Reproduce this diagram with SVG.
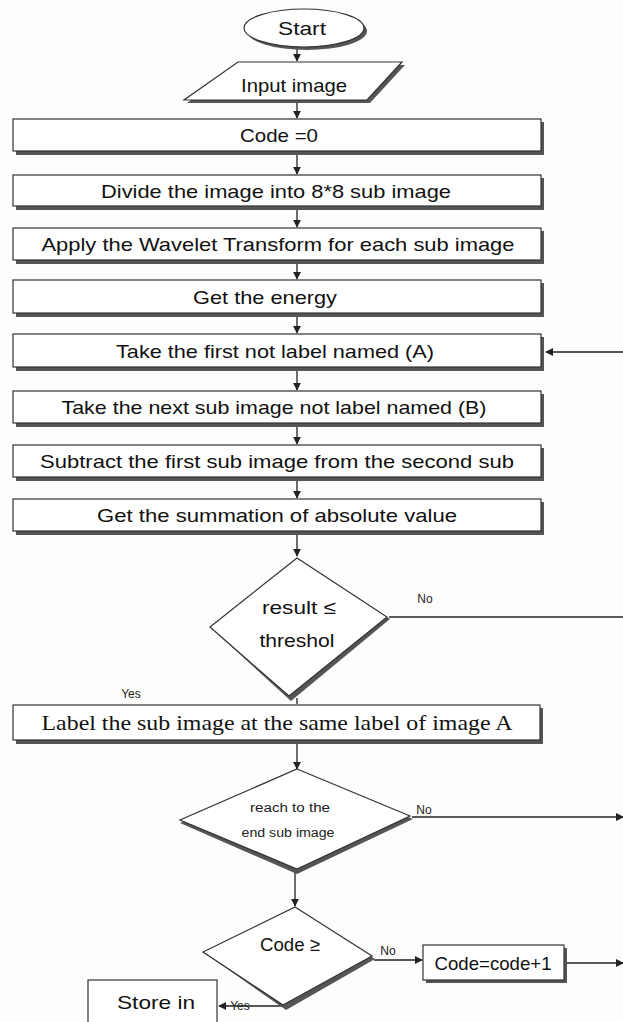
<svg xmlns="http://www.w3.org/2000/svg" width="623" height="1022" viewBox="0 0 623 1022">
<defs>
<marker id="ah" viewBox="0 0 10 10" refX="9" refY="5" markerWidth="8" markerHeight="8" orient="auto" markerUnits="userSpaceOnUse">
<path d="M0,0 L10,5 L0,10 Z" fill="#222"/>
</marker>
<style>
.box{fill:#fff;stroke:#333;stroke-width:1.2}
.sh{fill:#555}
.t{font-family:"Liberation Sans",Arial,sans-serif;font-size:19px;fill:#111;text-anchor:middle}
.s{font-family:"Liberation Serif","Times New Roman",serif;font-size:22px;fill:#111;text-anchor:middle}
.sm{font-family:"Liberation Sans",Arial,sans-serif;font-size:12px;fill:#222;text-anchor:middle}
.c{stroke:#222;stroke-width:1.3;fill:none}
</style>
</defs>
<rect width="623" height="1022" fill="#fdfdfb"/>
<g id="connectors">
<path class="c" d="M297,48 V61" marker-end="url(#ah)"/>
<path class="c" d="M297,100 V118" marker-end="url(#ah)"/>
<path class="c" d="M297,154 V174" marker-end="url(#ah)"/>
<path class="c" d="M297,209 V227" marker-end="url(#ah)"/>
<path class="c" d="M297,263 V279" marker-end="url(#ah)"/>
<path class="c" d="M297,316 V333" marker-end="url(#ah)"/>
<path class="c" d="M297,370 V390" marker-end="url(#ah)"/>
<path class="c" d="M297,426 V444" marker-end="url(#ah)"/>
<path class="c" d="M297,480 V498" marker-end="url(#ah)"/>
<path class="c" d="M297,534 V556" marker-end="url(#ah)"/>
<path class="c" d="M389,617 H623"/>
<path class="c" d="M623,352 H546" marker-end="url(#ah)"/>
<path class="c" d="M297,698 V704"/>
<path class="c" d="M297,743 V769" marker-end="url(#ah)"/>
<path class="c" d="M412,817 H623" marker-end="url(#ah)"/>
<path class="c" d="M295,872 V906" marker-end="url(#ah)"/>
<path class="c" d="M374,960 H422" marker-end="url(#ah)"/>
<path class="c" d="M567,963 H623" marker-end="url(#ah)"/>
<path class="c" d="M281,992 V1006 H219" marker-end="url(#ah)"/>
</g>
<g id="start">
<ellipse cx="307" cy="31" rx="60" ry="19" class="sh"/>
<ellipse cx="304" cy="28" rx="60" ry="19" class="box"/>
<text x="302" y="35" class="t" textLength="48" lengthAdjust="spacingAndGlyphs">Start</text>
</g>
<g id="input">
<polygon points="241,65 405,65 370,103 187,103" class="sh"/>
<polygon points="238,62 402,62 367,100 184,100" class="box"/>
<text x="294" y="92" class="t" font-size="17" textLength="106" lengthAdjust="spacingAndGlyphs">Input image</text>
</g>
<g id="code0">
<rect x="16" y="122" width="528" height="33" class="sh"/>
<rect x="13" y="119" width="528" height="32" class="box"/>
<text x="279" y="142" class="t" textLength="78" lengthAdjust="spacingAndGlyphs">Code =0</text>
</g>
<g id="divide">
<rect x="16" y="178" width="528" height="32" class="sh"/>
<rect x="13" y="175" width="528" height="31" class="box"/>
<text x="276" y="198" class="t" textLength="350" lengthAdjust="spacingAndGlyphs">Divide the image into 8*8 sub image</text>
</g>
<g id="apply">
<rect x="16" y="231" width="528" height="33" class="sh"/>
<rect x="13" y="228" width="528" height="32" class="box"/>
<text x="278" y="251" class="t" textLength="473" lengthAdjust="spacingAndGlyphs">Apply the Wavelet Transform for each sub image</text>
</g>
<g id="energy">
<rect x="16" y="283" width="528" height="34" class="sh"/>
<rect x="13" y="280" width="528" height="33" class="box"/>
<text x="265" y="304" class="t" textLength="144" lengthAdjust="spacingAndGlyphs">Get the energy</text>
</g>
<g id="takefirst">
<rect x="16" y="337" width="528" height="34" class="sh"/>
<rect x="13" y="334" width="528" height="33" class="box"/>
<text x="275" y="358" class="t" textLength="318" lengthAdjust="spacingAndGlyphs">Take the first not label named (A)</text>
</g>
<g id="takenext">
<rect x="16" y="394" width="528" height="33" class="sh"/>
<rect x="13" y="391" width="528" height="32" class="box"/>
<text x="274" y="414" class="t" textLength="425" lengthAdjust="spacingAndGlyphs">Take the next sub image not label named (B)</text>
</g>
<g id="subtract">
<rect x="16" y="448" width="528" height="33" class="sh"/>
<rect x="13" y="445" width="528" height="32" class="box"/>
<text x="277" y="468" class="t" textLength="474" lengthAdjust="spacingAndGlyphs">Subtract the first sub image from the second sub</text>
</g>
<g id="summation">
<rect x="16" y="502" width="528" height="33" class="sh"/>
<rect x="13" y="499" width="528" height="32" class="box"/>
<text x="277" y="522" class="t" textLength="360" lengthAdjust="spacingAndGlyphs">Get the summation of absolute value</text>
</g>
<g id="threshold">
<polygon points="297,558 390,619 291,701 210,627" class="sh"/>
<polygon points="297,558 387,617 289,696 210,627" class="box"/>
<text x="299" y="614" class="t" textLength="74" lengthAdjust="spacingAndGlyphs">result ≤</text>
<text x="297" y="647" class="t" textLength="75" lengthAdjust="spacingAndGlyphs">threshol</text>
<text x="425" y="603" class="sm">No</text>
</g>
<g id="label">
<text x="131" y="698" class="sm">Yes</text>
<rect x="16" y="708" width="527" height="36" class="sh"/>
<rect x="13" y="705" width="527" height="35" class="box"/>
<text x="277" y="730" class="s" textLength="471" lengthAdjust="spacingAndGlyphs">Label the sub image at the same label of image A</text>
</g>
<g id="reachend">
<polygon points="297,771 413,819 297,874 180,823" class="sh"/>
<polygon points="297,769 410,816 297,869 180,820" class="box"/>
<text x="290" y="812" class="sm" font-size="13" textLength="80" lengthAdjust="spacingAndGlyphs">reach to the</text>
<text x="288" y="837" class="sm" font-size="13" textLength="93" lengthAdjust="spacingAndGlyphs">end sub image</text>
<text x="424" y="814" class="sm">No</text>
</g>
<g id="codecheck">
<polygon points="295,907 375,959 286,1010 203,952" class="sh"/>
<polygon points="295,907 372,956 283,1005 203,952" class="box"/>
<text x="290" y="951" class="t" font-size="17" textLength="60" lengthAdjust="spacingAndGlyphs">Code ≥</text>
<text x="388" y="955" class="sm">No</text>
</g>
<g id="increment">
<rect x="426" y="948" width="141" height="35" class="sh"/>
<rect x="423" y="945" width="141" height="35" class="box"/>
<text x="493" y="970" class="t" textLength="117" lengthAdjust="spacingAndGlyphs">Code=code+1</text>
</g>
<g id="store">
<text x="240" y="1010" class="sm" font-size="10">Yes</text>
<rect x="88" y="980" width="129" height="45" class="box"/>
<text x="156" y="1009" class="t" textLength="78" lengthAdjust="spacingAndGlyphs">Store in</text>
</g>
</svg>
